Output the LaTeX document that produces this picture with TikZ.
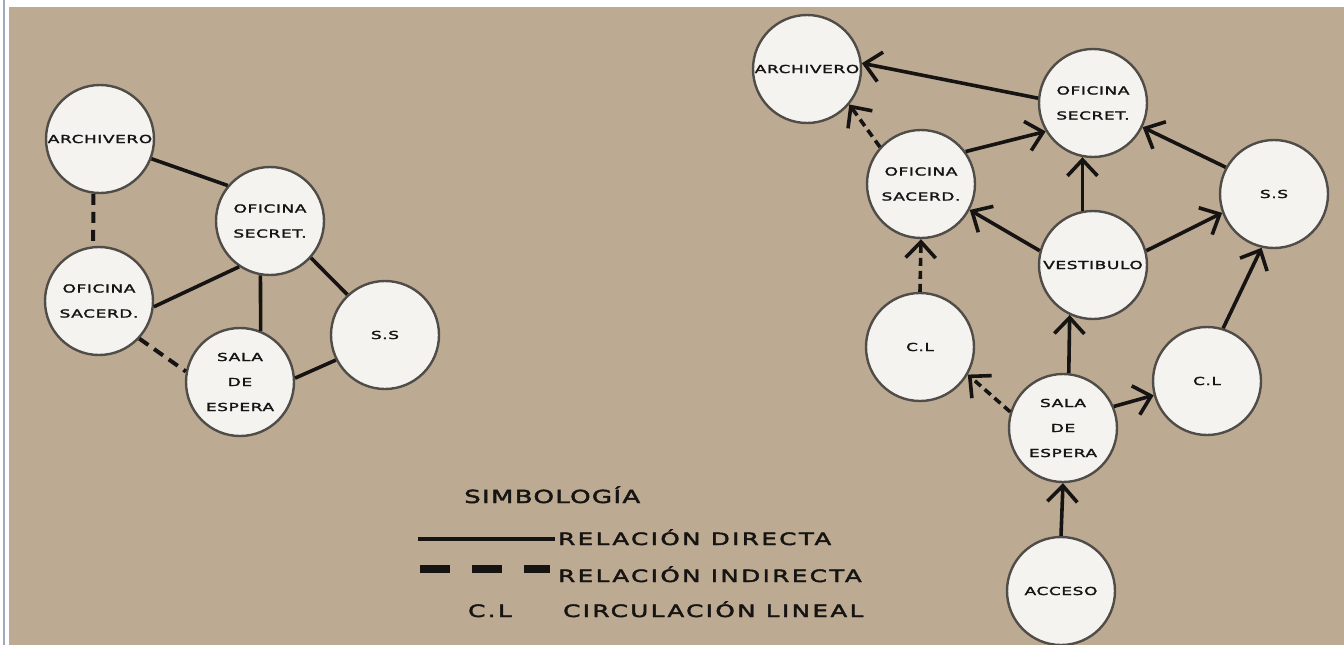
\documentclass[tikz,border=0pt]{standalone}
\usepackage{fontspec}
\setmainfont{DejaVu Sans}
\newfontfamily\cfont[FakeStretch=1.55,LetterSpace=5,FakeBold=2]{DejaVu Sans}
\newfontfamily\lfont[FakeStretch=1.45,LetterSpace=14,FakeBold=2.5]{DejaVu Sans}
\newfontfamily\hfont[FakeStretch=1.45,LetterSpace=7,FakeBold=2.5]{DejaVu Sans}
\usetikzlibrary{arrows.meta}
\definecolor{bgtan}{RGB}{189,170,146}
\definecolor{ink}{RGB}{22,20,18}
\definecolor{rim}{RGB}{80,77,73}
\definecolor{disc}{RGB}{244,243,240}
\definecolor{frameline}{RGB}{160,172,188}
\begin{document}
\begin{tikzpicture}[x=1pt,y=-1pt,
 circ/.style={circle,draw=rim,line width=2.4pt,fill=disc,minimum size=108pt,inner sep=0pt,align=center,text=ink,font=\cfont\fontsize{11}{25}\selectfont},
 rel/.style={draw=ink,line width=3.6pt},
 ind/.style={draw=ink,line width=4pt,dash pattern=on 11pt off 7pt},
 arr/.style={draw=ink,line width=3.6pt,-{Straight Barb[length=16pt,width=30pt]}},
 darr/.style={arr,dash pattern=on 8pt off 5pt},
 lgd/.style={anchor=base west,inner sep=0pt,text=ink,font=\lfont\fontsize{17}{20}\selectfont}]
\useasboundingbox (0,0) rectangle (1344,645);
\fill[white] (0,0) rectangle (1344,645);
\fill[bgtan] (9,7) rectangle (1344,645);
\draw[frameline,line width=1.5pt] (4,0) -- (4,645);

% left graph
\node[circ] (al) at (100,139) {\makebox[0pt]{ARCHIVERO}};
\node[circ] (sl) at (270,221) {OFICINA\\SECRET.};
\node[circ] (cl) at (99,301) {OFICINA\\SACERD.};
\node[circ] (el) at (240,382) {SALA\\DE\\ESPERA};
\node[circ] (ssl) at (385,335) {S.S};

\draw[rel] (al.-21) -- (sl.140);
\draw[ind] (al.-97) -- (cl.96);
\draw[rel] (cl.-6) -- (sl.-124);
\draw[rel] (sl.-100) -- (el.68);
\draw[rel] (sl.-42) -- (ssl.133);
\draw[ind] (cl.-43) -- (el.169);
\draw[rel] (el.4) -- (ssl.-153);

% right graph
\node[circ] (ar) at (807,69) {\makebox[0pt]{ARCHIVERO}};
\node[circ] (sr) at (1093,103) {OFICINA\\SECRET.};
\node[circ] (cr) at (921,184) {OFICINA\\SACERD.};
\node[circ] (ssr) at (1274,194) {S.S};
\node[circ] (vr) at (1093,265) {\makebox[0pt]{VESTIBULO}};
\node[circ] (l1) at (920,347) {C.L};
\node[circ] (er) at (1063,428) {SALA\\DE\\ESPERA};
\node[circ] (l2) at (1207,381) {C.L};
\node[circ] (acc) at (1061,591) {ACCESO};

\draw[arr] (sr.175) -- (ar.6);
\draw[darr] (cr.138) -- (ar.-40);
\draw[arr] (cr.36) -- (sr.211);
\draw[arr] (vr.101) -- (sr.-101);
\draw[arr] (ssr.151) -- (sr.-26);
\draw[arr] (vr.165) -- (cr.-28);
\draw[arr] (vr.15) -- (ssr.200);
\draw[darr] (l1.90) -- (cr.-90);
\draw[arr] (l2.73) -- (ssr.-103);
\draw[arr] (er.84) -- (vr.245);
\draw[darr] (er.163) -- (l1.-30);
\draw[arr] (er.23) -- (l2.195);
\draw[arr] (acc.90) -- (er.-90);

% legend
\node[lgd,font=\hfont\fontsize{18}{20}\selectfont] (t0) at (464,503) {SIMBOLOGÍA};
\node[lgd] (t1) at (558,545) {RELACIÓN DIRECTA};
\node[lgd] (t2) at (558,582) {RELACIÓN INDIRECTA};
\node[lgd] (t3) at (468,617) {C.L};
\node[lgd] (t4) at (563,617) {CIRCULACIÓN LINEAL};
\coordinate (a1) at (418,539);
\coordinate (b1) at (555,539);
\draw[rel] (a1) -- (b1);
\coordinate (a2) at (420,569);
\coordinate (b2) at (550,569);
\draw[draw=ink,line width=8pt,dash pattern=on 30pt off 22pt] (a2) -- (b2);
\end{tikzpicture}
\end{document}
